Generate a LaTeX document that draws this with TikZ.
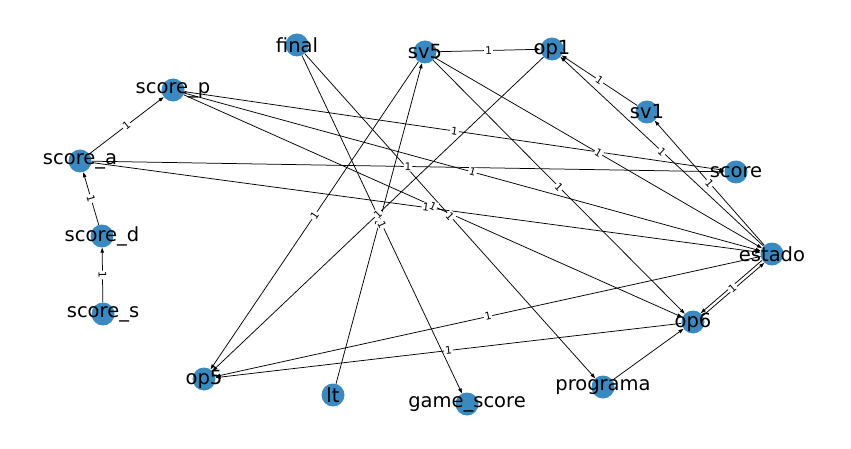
\documentclass[tikz,border=0pt]{standalone}
\usepackage{fontspec}
\setmainfont{DejaVu Sans}
\usetikzlibrary{arrows.meta}
\definecolor{nodeblue}{RGB}{58,137,192}
\pgfdeclarelayer{edgelayer}
\pgfsetlayers{edgelayer,main}
\tikzset{
  vtx/.style={circle, fill=nodeblue, draw=none, minimum size=23pt, inner sep=0pt},
  vtxtext/.style={font=\fontsize{19.5}{19.5}\selectfont, inner sep=0pt, text=black},
  edge/.style={draw=black, line width=0.75pt, -{Triangle[length=5pt,width=3.5pt]}},
  lbl/.style={midway, sloped, fill=white, inner sep=1pt, font=\fontsize{10.5}{10.5}\selectfont}
}
\begin{document}
\begin{tikzpicture}[x=1pt, y=-1pt]
\useasboundingbox (0,0) rectangle (851,449);
% node circles
\node[vtx] (fin)  at (297,45)  {};
\node[vtx] (sv5)  at (425,52)  {};
\node[vtx] (op1)  at (552,49)  {};
\node[vtx] (scp)  at (173,90)  {};
\node[vtx] (sv1)  at (647,112) {};
\node[vtx] (sca)  at (80,161)  {};
\node[vtx] (sc)   at (736,172) {};
\node[vtx] (scd)  at (102,236) {};
\node[vtx] (est)  at (772,254) {};
\node[vtx] (scs)  at (103,314) {};
\node[vtx] (op6)  at (693,322) {};
\node[vtx] (op5)  at (204,379) {};
\node[vtx] (lt)   at (333,395) {};
\node[vtx] (prog) at (603,387) {};
\node[vtx] (gs)   at (467,404) {};
% edges
\begin{pgfonlayer}{edgelayer}
\draw[edge] (sv5) -- (op1);
\draw[edge] (sca) -- (scp);
\draw[edge] (scd) -- (sca);
\draw[edge] (scs) -- (scd);
\draw[edge] (sv1) -- (op1);
\draw[edge] (est) -- (op1);
\draw[edge] (est) -- (sv1);
\draw[edge] (scp) -- (sc);
\draw[edge] (sca) -- (sc);
\draw[edge] (scp) -- (est);
\draw[edge] (sca) -- (est);
\draw[edge] (sv5) -- (est);
\draw[edge] (sv5) -- (op6);
\draw[edge] (sv5) -- (op5);
\draw[edge] (op1) -- (op5);
\draw[edge] (lt) -- (sv5);
\draw[edge] (fin) -- (gs);
\draw[edge] (fin) -- (prog);
\draw[edge] (scp) -- (op6);
\draw[edge, transform canvas={xshift=1.1pt, yshift=-1.3pt}] (op6) -- (est);
\draw[edge, transform canvas={xshift=-1.1pt, yshift=1.3pt}] (est) -- (op6);
\draw[edge] (prog) -- (op6);
\draw[edge] (est) -- (op5);
\draw[edge] (op6) -- (op5);
\end{pgfonlayer}
% edge labels
\path (sv5) -- (op1) node[lbl] {1};
\path (sca) -- (scp) node[lbl] {1};
\path (scd) -- (sca) node[lbl] {1};
\path (scs) -- (scd) node[lbl] {1};
\path (sv1) -- (op1) node[lbl] {1};
\path (est) -- (op1) node[lbl] {1};
\path (est) -- (sv1) node[lbl] {1};
\path (scp) -- (sc) node[lbl] {1};
\path (sca) -- (sc) node[lbl] {1};
\path (scp) -- (est) node[lbl] {1};
\path (sca) -- (est) node[lbl] {1};
\path (sv5) -- (est) node[lbl] {1};
\path (sv5) -- (op6) node[lbl] {1};
\path (sv5) -- (op5) node[lbl] {1};
\path (op1) -- (op5) node[lbl] {1};
\path (lt) -- (sv5) node[lbl] {1};
\path (fin) -- (gs) node[lbl] {1};
\path (fin) -- (prog) node[lbl] {1};
\path (scp) -- (op6) node[lbl] {1};
\path (op6) -- (est) node[lbl] {1};
\path (est) -- (op5) node[lbl] {1};
\path (op6) -- (op5) node[lbl] {1};
% node texts
\node[vtxtext] (fin-t)  at (fin)  {final};
\node[vtxtext] (sv5-t)  at (sv5)  {sv5};
\node[vtxtext] (op1-t)  at (op1)  {op1};
\node[vtxtext] (scp-t)  at (scp)  {score\_p};
\node[vtxtext] (sv1-t)  at (sv1)  {sv1};
\node[vtxtext] (sca-t)  at (sca)  {score\_a};
\node[vtxtext] (sc-t)   at (sc)   {score};
\node[vtxtext] (scd-t)  at (scd)  {score\_d};
\node[vtxtext] (est-t)  at (est)  {estado};
\node[vtxtext] (scs-t)  at (scs)  {score\_s};
\node[vtxtext] (op6-t)  at (op6)  {op6};
\node[vtxtext] (op5-t)  at (op5)  {op5};
\node[vtxtext] (lt-t)   at (lt)   {lt};
\node[vtxtext] (prog-t) at (prog) {programa};
\node[vtxtext] (gs-t)   at (gs)   {game\_score};
\end{tikzpicture}
\end{document}
